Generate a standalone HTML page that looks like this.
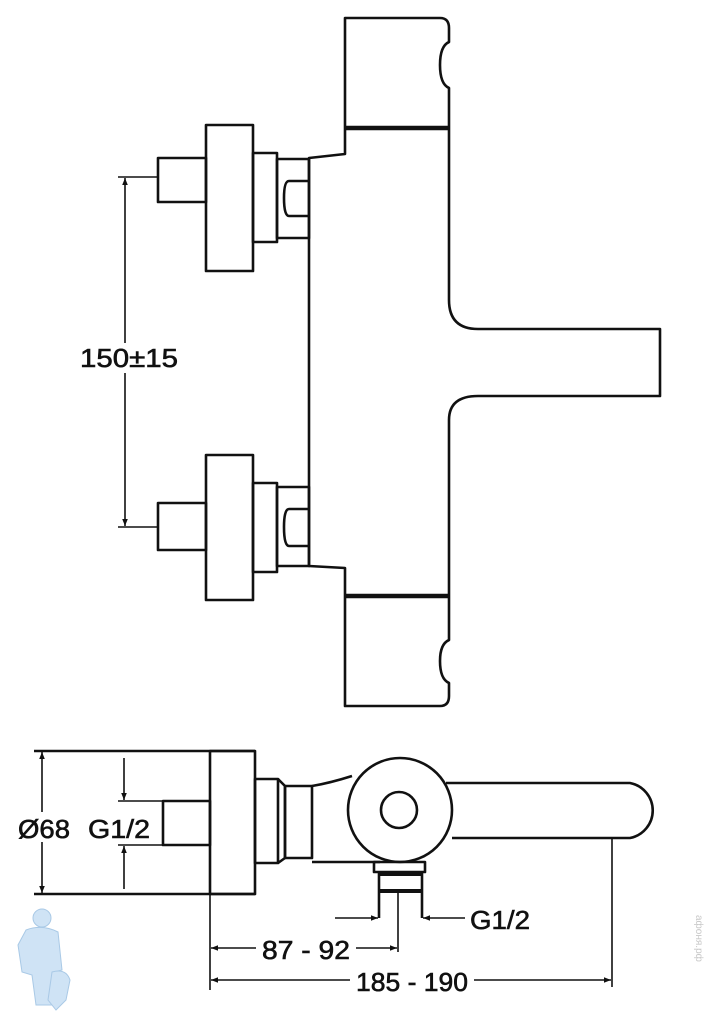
<!DOCTYPE html>
<html><head><meta charset="utf-8"><style>
html,body{margin:0;padding:0;background:#fff;}
svg{display:block;}
text{font-family:"Liberation Sans",sans-serif;font-weight:normal;fill:#111;stroke:#111;stroke-width:0.6;}
</style></head><body>
<svg width="709" height="1024" viewBox="0 0 709 1024" xmlns="http://www.w3.org/2000/svg">
<defs>
<marker id="a" viewBox="0 0 10 10" refX="10" refY="5" markerWidth="11" markerHeight="7" orient="auto-start-reverse" markerUnits="userSpaceOnUse"><path d="M0,1 L10,5 L0,9 z" fill="#111"/></marker>
</defs>
<g fill="none" stroke="#111" stroke-width="2.6" stroke-linejoin="round">
<path d="M345,128 V18 H440 Q449,18 449,28 V42 Q440,46 440,65 Q440,84 449,88 V128"/>
<line x1="345" y1="128" x2="449" y2="128" stroke-width="4.5"/>
<path d="M345,128 V154 L309,158 V566 L345,568 V596"/>
<path d="M449,128 V300 Q449,329 478,329 H660 V396 H478 Q449,396 449,420 V596"/>
<line x1="345" y1="596" x2="449" y2="596" stroke-width="4.5"/>
<path d="M345,596 V706 H440 Q449,706 449,696 V683 Q440,679 440,661 Q440,644 449,640 V596"/>
<rect x="158" y="158" width="48" height="44"/>
<rect x="206" y="125" width="47" height="146"/>
<rect x="253" y="153" width="24" height="89"/>
<rect x="277" y="159" width="32" height="79"/>
<path d="M309,181 H289 Q284,181 284,198 Q284,216 289,216 H309"/>
<rect x="158" y="503" width="48" height="47"/>
<rect x="206" y="455" width="47" height="145"/>
<rect x="253" y="483" width="24" height="89"/>
<rect x="277" y="487" width="32" height="79"/>
<path d="M309,509 H289 Q284,509 284,527 Q284,546 289,546 H309"/>
</g>
<g stroke="#111" stroke-width="1.6" fill="none">
<line x1="118" y1="177" x2="158" y2="177"/>
<line x1="118" y1="527" x2="158" y2="527"/>
<line x1="125" y1="178" x2="125" y2="526" marker-start="url(#a)" marker-end="url(#a)"/>
</g>
<rect x="78" y="343" width="104" height="30" fill="#fff"/>
<text x="129" y="367" font-size="26" text-anchor="middle" textLength="98" lengthAdjust="spacingAndGlyphs">150±15</text>

<g fill="none" stroke="#111" stroke-width="2.6" stroke-linejoin="round">
<line x1="34" y1="751" x2="255" y2="751"/>
<line x1="34" y1="894" x2="255" y2="894"/>
<rect x="210" y="751" width="45" height="143"/>
<rect x="163" y="801" width="47" height="44"/>
<rect x="255" y="779" width="23" height="84"/>
<path d="M278,779 L285,786 V858 L278,863"/>
<rect x="285" y="786" width="27" height="72"/>
<path d="M312,786 Q330,783 352,776"/>
<line x1="312" y1="862" x2="380" y2="862"/>
<circle cx="400" cy="810" r="52"/>
<circle cx="399" cy="810" r="18"/>
<path d="M446,783 H630 A28,28 0 0 1 630,838 H452"/>
<rect x="374" y="862" width="51" height="10"/>
<path d="M379,872 V918 M422,872 V918"/>
<line x1="379" y1="874" x2="422" y2="874" stroke-width="4"/>
<line x1="379" y1="891" x2="422" y2="891" stroke-width="4"/>
</g>
<g stroke="#111" stroke-width="1.6" fill="none">
<line x1="42" y1="752" x2="42" y2="893" marker-start="url(#a)" marker-end="url(#a)"/>
<line x1="118" y1="801" x2="163" y2="801"/>
<line x1="118" y1="845" x2="163" y2="845"/>
<line x1="124" y1="758" x2="124" y2="800" marker-end="url(#a)"/>
<line x1="124" y1="889" x2="124" y2="846" marker-end="url(#a)"/>
<line x1="398" y1="891" x2="398" y2="952"/>
<line x1="210" y1="894" x2="210" y2="990"/>
<line x1="612" y1="838" x2="612" y2="987"/>
<line x1="335" y1="918" x2="378" y2="918" marker-end="url(#a)"/>
<line x1="465" y1="918" x2="423" y2="918" marker-end="url(#a)"/>
<line x1="211" y1="948" x2="397" y2="948" marker-start="url(#a)" marker-end="url(#a)"/>
<line x1="211" y1="980" x2="611" y2="980" marker-start="url(#a)" marker-end="url(#a)"/>
</g>
<rect x="14" y="812" width="62" height="30" fill="#fff"/>
<text x="18" y="838" font-size="26" textLength="52" lengthAdjust="spacingAndGlyphs">Ø68</text>
<rect x="84" y="812" width="72" height="30" fill="#fff"/>
<text x="88" y="838" font-size="26" textLength="62" lengthAdjust="spacingAndGlyphs">G1/2</text>
<text x="470" y="929" font-size="26" textLength="60" lengthAdjust="spacingAndGlyphs">G1/2</text>
<rect x="256" y="934" width="100" height="30" fill="#fff"/>
<text x="262" y="959" font-size="26" textLength="88" lengthAdjust="spacingAndGlyphs">87 - 92</text>
<rect x="350" y="965" width="124" height="30" fill="#fff"/>
<text x="356" y="991" font-size="26" textLength="112" lengthAdjust="spacingAndGlyphs">185 - 190</text>
<g fill="#cfe3f5" stroke="#a9c9e6" stroke-width="1">
<circle cx="42" cy="918" r="9"/>
<path d="M26,930 Q42,924 58,932 L62,970 L54,972 L52,1005 L36,1005 L32,975 L22,972 L18,945 Z"/>
<path d="M52,972 Q66,968 70,980 L66,1000 L56,1010 L48,1000 Z"/>
</g>
<text x="696" y="915" font-size="10" style="fill:#c8c8c8;stroke:none" transform="rotate(90 696 915)">афоня.рф</text>
</svg>
</body></html>
